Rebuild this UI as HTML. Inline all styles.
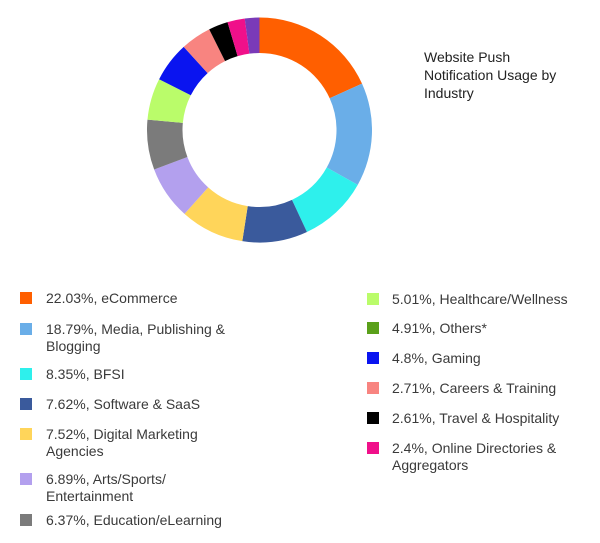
<!DOCTYPE html>
<html><head><meta charset="utf-8"><style>
body{margin:0;width:600px;height:543px;background:#fff;font-family:"Liberation Sans",sans-serif;overflow:hidden}
svg{position:absolute;left:0;top:0}
.t{font-size:14px;fill:#3a3a3a}
.ti{font-size:14px;fill:#222}
</style></head><body>
<svg width="600" height="543">
<g id="donut"></g>
<g>
<text class="ti" x="424" y="62">Website Push</text>
<text class="ti" x="424" y="80">Notification Usage by</text>
<text class="ti" x="424" y="98">Industry</text>
</g>
<g id="legend"></g>
</svg>
<script>
const categories=["eCommerce","Media, Publishing & Blogging","BFSI","Software & SaaS","Digital Marketing Agencies","Arts/Sports/ Entertainment","Education/eLearning","Healthcare/Wellness","Gaming","Careers & Training","Travel & Hospitality","Online Directories & Aggregators","Others*"];
const values=[22.03,18.79,8.35,7.62,7.52,6.89,6.37,5.01,4.8,2.71,2.61,2.4,4.91];
// slice sizes as actually drawn in the picture (the ring is not proportional to the legend)
const sliceValues=[18.3,14.9,10.0,9.4,9.2,7.7,7.2,6.0,5.8,4.4,2.8,2.5,2.1];
const labels=["22.03%","18.79%","8.35%","7.62%","7.52%","6.89%","6.37%","5.01%","4.8%","2.71%","2.61%","2.4%","4.91%"];
const sliceColors=["#ff5f00","#6aaee8","#2ef0ec","#3a5a9c","#ffd55a","#b3a0ee","#7b7b7b","#bafc6a","#0a14f0","#f88480","#000000","#f0108a","#7a3ab8"];
const legendColors=["#ff5f00","#6aaee8","#2ef0ec","#3a5a9c","#ffd55a","#b3a0ee","#7b7b7b","#bafc6a","#0a14f0","#f88480","#000000","#f0108a","#5aa01a"];
const NS="http://www.w3.org/2000/svg";
const cx=259.5,cy=130,R=112.5,r=77;
const total=sliceValues.reduce((a,b)=>a+b,0);
const ang=v=>v/total*Math.PI*2;
const pt=(a,rad)=>[cx+rad*Math.sin(a),cy-rad*Math.cos(a)];
const donut=document.getElementById('donut');
let a0=0;
sliceValues.forEach((v,i)=>{
  const a1=a0+ang(v);const lg=(a1-a0)>Math.PI?1:0;
  const p1=pt(a0,R),p2=pt(a1,R),p3=pt(a1,r),p4=pt(a0,r);
  const p=document.createElementNS(NS,'path');
  p.setAttribute('d',`M${p1}A${R},${R} 0 ${lg} 1 ${p2}L${p3}A${r},${r} 0 ${lg} 0 ${p4}Z`);
  p.setAttribute('fill',sliceColors[i]);
  
  
  donut.appendChild(p);a0=a1;
});
const leftOrder=[0,1,2,3,4,5,6],rightOrder=[7,12,8,9,10,11];
const leftY=[298,329,374,404,434,479,520],rightY=[299,328,358,388,418,448];
const wraps={1:["Media, Publishing &","Blogging"],4:["Digital Marketing","Agencies"],5:["Arts/Sports/","Entertainment"],11:["Online Directories &","Aggregators"]};
const leg=document.getElementById('legend');
function item(i,sx,tx,y){
  const g=document.createElementNS(NS,'g');
  
  
  const s=document.createElementNS(NS,'rect');
  s.setAttribute('x',sx);s.setAttribute('y',y-6);s.setAttribute('width',12);s.setAttribute('height',12);s.setAttribute('fill',legendColors[i]);
  g.appendChild(s);
  const lines=wraps[i]?[labels[i]+", "+wraps[i][0],wraps[i][1]]:[labels[i]+", "+categories[i]];
  lines.forEach((l,k)=>{const t=document.createElementNS(NS,'text');t.setAttribute('class','t');t.setAttribute('x',tx);t.setAttribute('y',y+5+k*17);t.textContent=l;g.appendChild(t);});
  leg.appendChild(g);
}
leftOrder.forEach((i,k)=>item(i,20,46,leftY[k]));
rightOrder.forEach((i,k)=>item(i,367,392,rightY[k]));
</script>
</body></html>
